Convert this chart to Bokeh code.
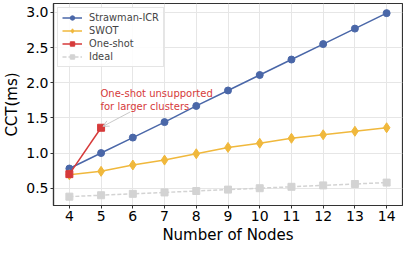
from bokeh.plotting import figure
from bokeh.models import FixedTicker, PrintfTickFormatter, Label, Arrow, OpenHead, Legend, Title
from bokeh.embed import file_html
from bokeh.resources import INLINE

nodes = [4, 5, 6, 7, 8, 9, 10, 11, 12, 13, 14]
strawman = [0.78, 1.00, 1.22, 1.44, 1.67, 1.89, 2.11, 2.33, 2.55, 2.77, 2.99]
swot = [0.69, 0.74, 0.83, 0.90, 0.99, 1.08, 1.14, 1.21, 1.26, 1.31, 1.36]
oneshot_nodes = [4, 5]
oneshot = [0.70, 1.36]
ideal = [0.38, 0.40, 0.42, 0.44, 0.46, 0.48, 0.50, 0.52, 0.54, 0.56, 0.58]
x_ticks = [4, 5, 6, 7, 8, 9, 10, 11, 12, 13, 14]
y_ticks = [0.5, 1.0, 1.5, 2.0, 2.5, 3.0]

FONT = "DejaVu Sans"
BLUE = "#4a67a8"
YELLOW = "#f0b83c"
RED = "#d63a3a"
GRAY = "#d3d3d3"

p = figure(width=403, height=243, x_range=(3.5, 14.5), y_range=(0.254, 3.127),
           output_backend="svg", toolbar_location=None, border_fill_color="white",
           min_border_left=44, min_border_right=1, min_border_top=3, min_border_bottom=0)

r1 = p.line(nodes, strawman, color=BLUE, line_width=1.5)
r1m = p.scatter(nodes, strawman, marker="circle", size=7, color=BLUE)
r2 = p.line(nodes, swot, color=YELLOW, line_width=1.5)
r2m = p.scatter(nodes, swot, marker="diamond", size=10, color=YELLOW)
r3 = p.line(oneshot_nodes, oneshot, color=RED, line_width=1.5)
r3m = p.scatter(oneshot_nodes, oneshot, marker="square", size=7, color=RED)
r4 = p.line(nodes, ideal, color=GRAY, line_width=1.5, line_dash="4 2")
r4m = p.scatter(nodes, ideal, marker="square", size=7, color=GRAY)

legend = Legend(items=[("Strawman-ICR", [r1, r1m]), ("SWOT", [r2, r2m]),
                       ("One-shot", [r3, r3m]), ("Ideal", [r4, r4m])],
                location="top_left")
legend.label_text_font = FONT
legend.label_text_font_size = "9.8px"
legend.label_height = 11
legend.glyph_height = 11
legend.glyph_width = 20
legend.spacing = 2
legend.padding = 4
legend.margin = 4
legend.label_standoff = 7
legend.border_line_color = "#cccccc"
legend.border_line_width = 1
legend.background_fill_alpha = 0.85
p.add_layout(legend)

for ax in (p.xaxis[0], p.yaxis[0]):
    ax.major_label_text_font = FONT
    ax.major_label_text_font_size = "14px"
    ax.major_label_text_color = "black"
    ax.axis_label_text_font = FONT
    ax.axis_label_text_font_size = "15px"
    ax.axis_label_text_font_style = "normal"
    ax.axis_label_text_color = "black"
    ax.axis_line_color = "#333333"
    ax.axis_line_width = 1.2
    ax.major_tick_line_color = "#333333"
    ax.major_tick_out = 3
    ax.major_tick_in = 0
    ax.minor_tick_line_color = None
    ax.major_label_standoff = 2
    ax.axis_label_standoff = 2

p.xaxis.ticker = FixedTicker(ticks=x_ticks)
p.yaxis.ticker = FixedTicker(ticks=y_ticks)
p.yaxis.formatter = PrintfTickFormatter(format="%.1f")
p.yaxis.axis_label = "CCT(ms)"

p.add_layout(Title(text="Number of Nodes", align="center", text_font=FONT,
                   text_font_size="15px", text_font_style="normal", text_color="black",
                   standoff=0, offset=0), "below")

p.xgrid.grid_line_color = "#e6e6e6"
p.ygrid.grid_line_color = "#e6e6e6"
p.outline_line_color = "#333333"
p.outline_line_width = 1.2

p.add_layout(Arrow(end=OpenHead(size=6, line_color="#c8c8c8", line_width=1),
                   x_start=5.92, y_start=1.585, x_end=5.06, y_end=1.38,
                   line_color="#c8c8c8", line_width=1))
p.add_layout(Label(x=4.98, y=1.93, text="One-shot unsupported\nfor larger clusters",
                   text_font=FONT, text_font_size="10px", text_color=RED,
                   text_baseline="top", text_line_height=1.2))

open("out.html", "w").write(file_html(p, INLINE))
